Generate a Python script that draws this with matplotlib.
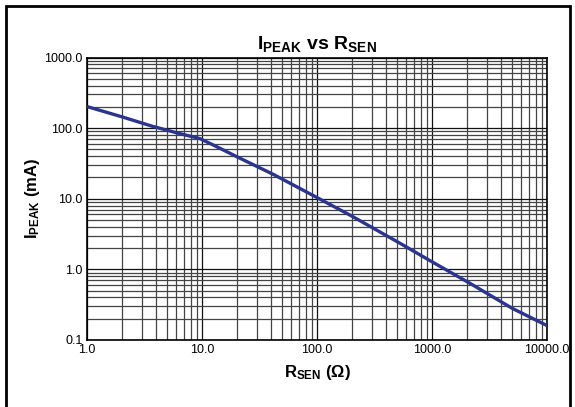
import matplotlib.pyplot as plt
from matplotlib.ticker import LogLocator, FixedLocator, FixedFormatter
from matplotlib.patches import Rectangle

plt.rcParams['font.family'] = ['Liberation Sans', 'DejaVu Sans']
plt.rcParams['mathtext.fontset'] = 'custom'
plt.rcParams['mathtext.rm'] = 'Liberation Sans'
plt.rcParams['mathtext.bf'] = 'Liberation Sans:bold'
plt.rcParams['mathtext.it'] = 'Liberation Sans:italic'

# ---- data ----
r_sen = [1, 2, 3.65, 6, 9.6, 13, 21, 42, 100, 200, 525, 1000, 2140, 5000, 10000]
i_peak = [202, 145, 107, 86, 71, 56, 38, 22, 10.4, 5.7, 2.35, 1.28, 0.634, 0.28, 0.16]

x_ticks = [1, 10, 100, 1000, 10000]
x_labels = ['1.0', '10.0', '100.0', '1000.0', '10000.0']
y_ticks = [0.1, 1, 10, 100, 1000]
y_labels = ['0.1', '1.0', '10.0', '100.0', '1000.0']

fig = plt.figure(figsize=(5.75, 4.07), dpi=100)
W, H = 575, 407
ax = fig.add_axes([87 / W, 1 - 340 / H, (547 - 87) / W, (340 - 57.5) / H])

ax.set_xscale('log')
ax.set_yscale('log')
ax.set_xlim(1, 10000)
ax.set_ylim(0.1, 1000)

# grid
ax.xaxis.set_minor_locator(LogLocator(base=10, subs=range(2, 10)))
ax.yaxis.set_minor_locator(LogLocator(base=10, subs=range(2, 10)))
ax.grid(True, which='major', color='#111111', linewidth=0.9)
ax.grid(True, which='minor', color='#444444', linewidth=0.9)
ax.set_axisbelow(True)

ax.plot(r_sen, i_peak, color='#2b3590', linewidth=2.4, solid_capstyle='butt', zorder=3)

ax.xaxis.set_major_locator(FixedLocator(x_ticks))
ax.xaxis.set_major_formatter(FixedFormatter(x_labels))
ax.yaxis.set_major_locator(FixedLocator(y_ticks))
ax.yaxis.set_major_formatter(FixedFormatter(y_labels))
ax.tick_params(which='both', length=0, labelsize=9, pad=3)

for s in ax.spines.values():
    s.set_linewidth(1.2)
    s.set_color('black')

ax.set_title(r'$\mathbf{I_{PEAK}}$ $\mathbf{vs}$ $\mathbf{R_{SEN}}$', fontsize=14, pad=6)
ax.set_xlabel(r'$\mathbf{R_{SEN}}$ $\mathbf{(\Omega)}$', fontsize=12, labelpad=5)
ax.set_ylabel(r'$\mathbf{I_{PEAK}}$ $\mathbf{(mA)}$', fontsize=12, labelpad=2)

# outer frame (bottom edge cropped in reference)
fig.patches.append(Rectangle((6 / W, -0.05), (570 - 6) / W, 1 - 6 / H + 0.05,
                             transform=fig.transFigure, fill=False,
                             edgecolor='black', linewidth=2))

fig.savefig('out.png', dpi=100)
